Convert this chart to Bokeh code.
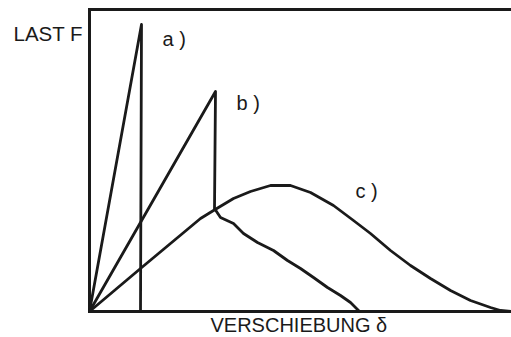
from bokeh.plotting import figure
from bokeh.models import Label, Range1d
from bokeh.embed import file_html
from bokeh.resources import INLINE

# Data (displacement δ vs. load F, arbitrary units)
curve_a_x = [0, 52, 51]
curve_a_y = [0, 287, 0]

curve_b_x = [0, 126, 125, 131, 144, 154, 168, 184, 198, 211, 224, 238, 251, 261, 268, 270]
curve_b_y = [0, 220, 103, 94, 88, 78, 69, 61, 51, 43, 34, 24, 16, 9, 2, 0]

curve_c_x = [0, 51, 111, 124, 144, 161, 181, 201, 221, 244, 264, 281, 301, 321,
             341, 361, 381, 401, 411, 422]
curve_c_y = [0, 43, 93, 101, 113, 120, 126, 126, 119, 106, 91, 78, 61, 46,
             33, 21, 11, 4, 1, 0]

curve_labels = ["a )", "b )", "c )"]
y_label = "LAST F"
x_label = "VERSCHIEBUNG δ"

# axis extents (data units)
X_MAX = 422
Y_MAX = 302

FONT = "Liberation Sans"
INK = "#1a1a1a"

p = figure(width=511, height=337, output_backend="svg", toolbar_location=None,
           x_range=Range1d(-89, 422), y_range=Range1d(-26, 311),
           x_axis_type=None, y_axis_type=None,
           min_border_left=0, min_border_right=0, min_border_top=0,
           min_border_bottom=0)
p.xgrid.visible = False
p.ygrid.visible = False
p.outline_line_color = None
p.background_fill_color = "white"
p.border_fill_color = "white"

# axis frame: left, bottom and top edges
p.segment(x0=[0, 0, 0], y0=[0, 0, Y_MAX], x1=[0, X_MAX, X_MAX], y1=[Y_MAX, 0, Y_MAX],
          line_width=3, line_color=INK, line_cap="square")

for xs, ys in [(curve_a_x, curve_a_y), (curve_b_x, curve_b_y), (curve_c_x, curve_c_y)]:
    p.line(xs, ys, line_width=2.8, line_color=INK, line_join="round", line_cap="round")

texts = [
    (y_label, -76, 278, "20.5px"),
    (curve_labels[0], 73, 273, "20px"),
    (curve_labels[1], 147, 209, "20px"),
    (curve_labels[2], 266, 121, "20px"),
    (x_label, 121, -13, "20px"),
]
for t, x, y, fs in texts:
    p.add_layout(Label(x=x, y=y, text=t, text_font=FONT, text_font_size=fs,
                       text_color=INK, text_baseline="alphabetic", text_align="left"))

open("out.html", "w").write(file_html(p, INLINE))
